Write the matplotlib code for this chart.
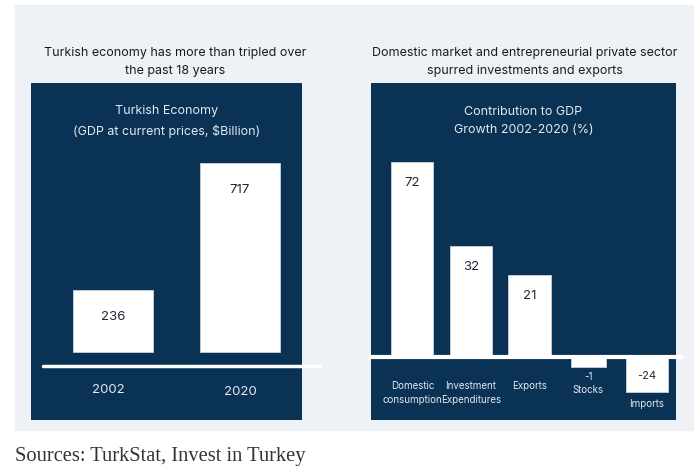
import numpy as np
import matplotlib.pyplot as plt
from matplotlib.patches import Rectangle
from matplotlib.transforms import blended_transform_factory

# data
years = ["2002", "2020"]
gdp = [236, 717]

components = ["Domestic\nconsumption", "Investment\nExpenditures", "Exports", "Stocks", "Imports"]
contribution = [72, 32, 21, -1, -24]

NAVY = "#0a3254"
GREY_BG = "#eef2f6"
DARK_TXT = "#1f2a36"
LIGHT_TXT = "#e3e9f0"

plt.rcParams["font.family"] = ["Inter", "DejaVu Sans"]

W, H = 694, 472
fig = plt.figure(figsize=(W / 100, H / 100), dpi=100)


def fx(px):
    return px / W


def fy(py):
    return 1 - py / H


def box(x0, y0, x1, y1):
    # figure-fraction rectangle from pixel corners
    return [fx(x0), fy(y1), fx(x1) - fx(x0), fy(y0) - fy(y1)]


# grey page panel (behind the axes)
fig.patches.append(Rectangle((fx(15), fy(430)), fx(694) - fx(15), fy(5) - fy(430),
                             transform=fig.transFigure, color=GREY_BG, zorder=-5))

# headings
fig.text(fx(175), fy(62), "Turkish economy has more than tripled over\nthe past 18 years",
         ha="center", va="center", fontsize=9, color="#1c1c1c", linespacing=1.75)
fig.text(fx(525), fy(62), "Domestic market and entrepreneurial private sector\nspurred investments and exports",
         ha="center", va="center", fontsize=9, color="#1c1c1c", linespacing=1.75)

# ---- left chart ----
ax1 = fig.add_axes(box(31, 83, 302, 420))
ax1.set_facecolor(NAVY)
x1 = np.arange(len(years))
ax1.bar(x1, gdp, width=0.63, color="white", edgecolor="#c8d3de", linewidth=0.6)
ax1.set_xlim(-0.646, 1.488)
ax1.set_ylim(-258, 1020)
for xi, v in zip(x1, gdp):
    ax1.annotate(str(v), (xi, v), xytext=(0, -27), textcoords="offset pixels",
                 ha="center", va="center", fontsize=9.5, color=DARK_TXT)
trans1 = blended_transform_factory(ax1.transData, ax1.transAxes)
for xi, lab, dy in zip(x1, years, [0.089, 0.083]):
    ax1.text(xi - 0.04 * (xi == 0), dy, lab, transform=trans1, ha="center", va="center",
             fontsize=9.5, color=LIGHT_TXT)
ax1.plot([0.044, 1.066], [0.160, 0.160], transform=ax1.transAxes, color="white",
         lw=2.5, clip_on=False, solid_capstyle="round")
ax1.text(0.5, 0.887, "Turkish Economy\n(GDP at current prices, $Billion)", transform=ax1.transAxes,
         ha="center", va="center", fontsize=9, color=LIGHT_TXT, linespacing=1.7)
ax1.set_xticks([])
ax1.set_yticks([])
for s in ax1.spines.values():
    s.set_visible(False)

# ---- right chart ----
ax2 = fig.add_axes(box(371, 83, 676, 420))
ax2.set_facecolor(NAVY)


# the source chart is not drawn to scale; a power-type scale mimics its bar heights
def fwd(v):
    v = np.asarray(v, dtype=float)
    return np.where(v >= 0, np.abs(v) ** 0.7, -np.abs(v) ** 0.4)


def inv(u):
    u = np.asarray(u, dtype=float)
    return np.where(u >= 0, np.abs(u) ** (1 / 0.7), -np.abs(u) ** (1 / 0.4))


ax2.set_yscale("function", functions=(fwd, inv))
x2 = np.arange(len(components))
widths = [0.72, 0.72, 0.72, 0.6, 0.72]
ax2.bar(x2, contribution, width=widths, color="white", edgecolor="#c8d3de", linewidth=0.6)
ax2.set_xlim(-0.706, 4.498)
ax2.set_ylim(-104.8, 116.9)
ax2.axhline(0, xmin=0, xmax=1.016, color="white", lw=3, clip_on=False)

for xi, v, lab in zip(x2, contribution, components):
    if v > 0:
        ax2.annotate(str(v), (xi, v), xytext=(0, -21), textcoords="offset pixels",
                     ha="center", va="center", fontsize=9.5, color=DARK_TXT)
        ax2.annotate(lab, (xi, 0), xytext=(0, -24), textcoords="offset pixels",
                     ha="center", va="top", fontsize=7, color=LIGHT_TXT, linespacing=1.5)
    elif v > -5:
        ax2.annotate(str(v), (xi, v), xytext=(0, -10), textcoords="offset pixels",
                     ha="center", va="center", fontsize=7, color=LIGHT_TXT)
        ax2.annotate(lab, (xi, v), xytext=(0, -23), textcoords="offset pixels",
                     ha="center", va="center", fontsize=7, color=LIGHT_TXT)
    else:
        ax2.annotate(str(v), (xi, 0), xytext=(0, -19), textcoords="offset pixels",
                     ha="center", va="center", fontsize=8, color=DARK_TXT)
        ax2.annotate(lab, (xi, v), xytext=(0, -12), textcoords="offset pixels",
                     ha="center", va="center", fontsize=7, color=LIGHT_TXT)

ax2.text(0.5, 0.887, "Contribution to GDP\nGrowth 2002-2020 (%)", transform=ax2.transAxes,
         ha="center", va="center", fontsize=9, color=LIGHT_TXT, linespacing=1.7)
ax2.set_xticks([])
ax2.set_yticks([])
ax2.minorticks_off()
for s in ax2.spines.values():
    s.set_visible(False)

# source line
fig.text(fx(15), fy(456), "Sources: TurkStat, Invest in Turkey", ha="left", va="center",
         fontsize=14.8, family="Liberation Serif", color="#333333")

plt.savefig("out.png", dpi=100)
